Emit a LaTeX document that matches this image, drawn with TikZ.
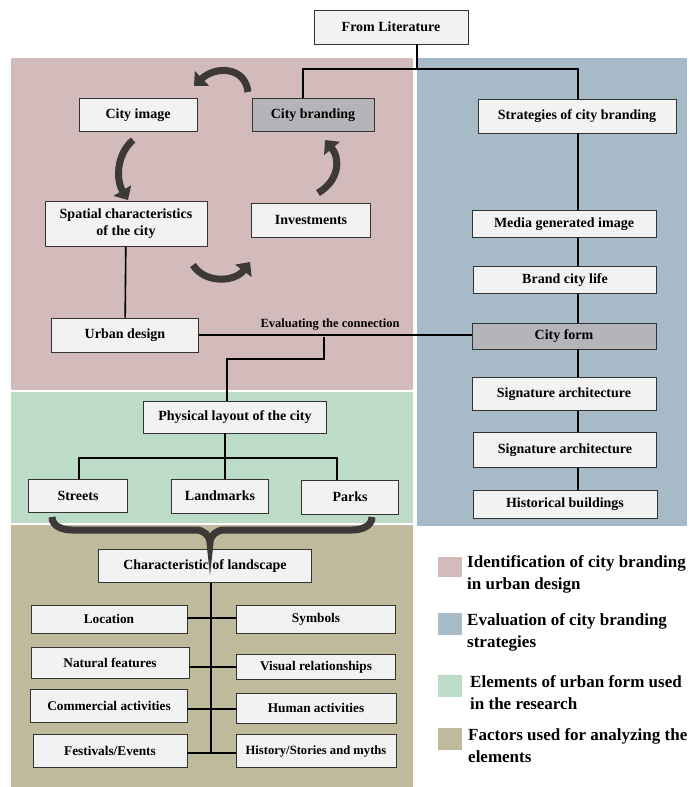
\documentclass[tikz,border=0pt]{standalone}
\usepackage{fontspec}
\setmainfont{Liberation Serif}
\usetikzlibrary{arrows.meta,positioning,calc}
\definecolor{identpink}{HTML}{D3BABB}
\definecolor{evalblue}{HTML}{A7BAC7}
\definecolor{formgreen}{HTML}{BCDCC8}
\definecolor{factortan}{HTML}{BEBA9B}
\definecolor{boxfill}{HTML}{F2F2F2}
\definecolor{keygray}{HTML}{B4B4B9}
\definecolor{arrowgray}{HTML}{3D3939}

\begin{document}
\begin{tikzpicture}[x=1pt,y=-1pt,
    box/.style={draw=black!80,line width=0.8pt,fill=boxfill,inner sep=2pt,align=center,
      font=\bfseries\fontsize{14}{17}\selectfont},
    keybox/.style={box,fill=keygray},
    factbox/.style={box,font=\bfseries\fontsize{13.3}{16}\selectfont},
    conn/.style={line width=1.6pt},
    cyclearrow/.style={line width=7pt,draw=arrowgray,-{Triangle[length=11pt,width=20pt]}},
    keytext/.style={anchor=north west,inner sep=0pt,align=left,
      font=\bfseries\fontsize{17}{22}\selectfont}]
  \useasboundingbox (0,0) rectangle (688,787);

  % coloured regions
  \fill[identpink] (11,58) rectangle (413,390);
  \fill[evalblue] (417,58) rectangle (687,526);
  \fill[formgreen] (11,392) rectangle (413,523);
  \fill[factortan] (11,525) rectangle (413,787);

  % top and first region
  \node[box,minimum width=154,minimum height=34] (lit) at (391,27) {From Literature};
  \node[box,minimum width=118,minimum height=33] (cimage) at (138,115) {City image};
  \node[keybox,minimum width=122,minimum height=33] (branding) at (313,115) {City branding};
  \node[box,minimum width=162,minimum height=45] (spatial) at (126,224) {Spatial characteristics\\of the city};
  \node[box,minimum width=119,minimum height=34] (invest) at (311,220) {Investments};
  \node[box,minimum width=147,minimum height=34] (urban) at (125,335) {Urban design};

  % strategies column
  \node[box,minimum width=198,minimum height=34] (strat) at (577,116) {Strategies of city branding};
  \node[box,minimum width=184,minimum height=27] (media) at (564,224) {Media generated image};
  \node[box,minimum width=183,minimum height=27] (brandlife) at (565,280) {Brand city life};
  \node[keybox,minimum width=184,minimum height=26] (cform) at (564,336) {City form};
  \node[box,minimum width=184,minimum height=33] (sigone) at (564,394) {Signature architecture};
  \node[box,minimum width=183,minimum height=35] (sigtwo) at (565,450) {Signature architecture};
  \node[box,minimum width=184,minimum height=28] (histb) at (565,504) {Historical buildings};

  % urban form
  \node[box,minimum width=183,minimum height=32] (phys) at (235,417) {Physical layout of the city};
  \node[box,minimum width=99,minimum height=33] (streets) at (78,496) {Streets};
  \node[box,minimum width=97,minimum height=34] (landm) at (220,496) {Landmarks};
  \node[box,minimum width=97,minimum height=34] (parks) at (350,497) {Parks};

  % landscape factors
  \node[box,minimum width=213,minimum height=33] (charl) at (205,566) {Characteristic of landscape};
  \node[factbox,minimum width=156,minimum height=28] (loc) at (109,619) {Location};
  \node[factbox,minimum width=159,minimum height=28] (sym) at (316,619) {Symbols};
  \node[factbox,minimum width=158,minimum height=31] (nat) at (110,663) {Natural features};
  \node[factbox,minimum width=159,minimum height=25] (vis) at (316,667) {Visual relationships};
  \node[factbox,minimum width=157,minimum height=33] (comm) at (109,706) {Commercial activities};
  \node[factbox,minimum width=160,minimum height=30] (human) at (316,708) {Human activities};
  \node[factbox,minimum width=154,minimum height=33] (fest) at (110,751) {Festivals/Events};
  \node[factbox,minimum width=160,minimum height=33,font=\bfseries\fontsize{12.6}{15}\selectfont] (histst) at (316,751) {History/Stories and myths};

  % connections
  \coordinate (split) at (417,69);
  \draw[conn] (lit.south -| split) -- (split);
  \draw[conn] (split) -| ([xshift=-10]branding.north);
  \draw[conn] (split) -| ([xshift=1]strat.north);
  \draw[conn] (spatial) -- (urban);
  \draw[conn] (urban.east) -- (urban.east -| cform.west);
  \node[inner sep=0pt,font=\bfseries\fontsize{12.5}{14}\selectfont] (evallabel) at (330,325) {Evaluating the connection};
  \coordinate (evaljoin) at (324,337);
  \coordinate (evalbend) at (227,359);
  \draw[conn] (evaljoin) |- (evalbend) -- (evalbend |- phys.north);
  \coordinate (spine) at (578,0);
  \foreach \a/\b in {strat/media,media/brandlife,brandlife/cform,cform/sigone,sigone/sigtwo,sigtwo/histb}
    \draw[conn] (\a.south -| spine) -- (\b.north -| spine);
  \coordinate (physjoin) at (225,458);
  \draw[conn] (phys.south -| physjoin) -- (physjoin);
  \foreach \n/\dx in {streets/1,landm/5,parks/-13}
    \draw[conn] (physjoin) -| ([xshift=\dx]\n.north);
  \coordinate (factspine) at (211,0);
  \draw[conn] (charl.south -| factspine) -- (factspine |- 0,753);
  \foreach \l/\r/\y in {loc/sym/618,nat/vis/667,comm/human/709,fest/histst/753}
    \draw[conn] (\l.east |- 0,\y) -- (\r.west |- 0,\y);

  % cycle arrows
  \draw[cyclearrow] (248,92) .. controls (245,66) and (215,66) .. (194,86);
  \draw[cyclearrow] (133,140) .. controls (116,155) and (116,180) .. (128,200);
  \draw[cyclearrow] (193,265) .. controls (205,284) and (235,282) .. (250,262);
  \draw[cyclearrow] (318,193) .. controls (340,180) and (340,158) .. (325,140);

  % brace
  \draw[arrowgray,line width=7pt] (52,517) to[out=-90,in=180] (72,530) -- (196,530)
    to[out=0,in=90] (210,543) to[out=90,in=180] (224,530) -- (352,530) to[out=0,in=-90] (372,517);

  % legend
  \fill[identpink] (438,557) rectangle (462,577);
  \fill[evalblue] (438,613) rectangle (462,635);
  \fill[formgreen] (438,675) rectangle (462,697);
  \fill[factortan] (438,728) rectangle (462,750);
  \node[keytext] (keyident) at (467,555) {Identification of city branding\\in urban design};
  \node[keytext] (keyeval) at (467,613) {Evaluation of city branding\\strategies};
  \node[keytext] (keyform) at (470,675) {Elements of urban form used\\in the research};
  \node[keytext] (keyfactor) at (468,728) {Factors used for analyzing the\\elements};
\end{tikzpicture}
\end{document}
